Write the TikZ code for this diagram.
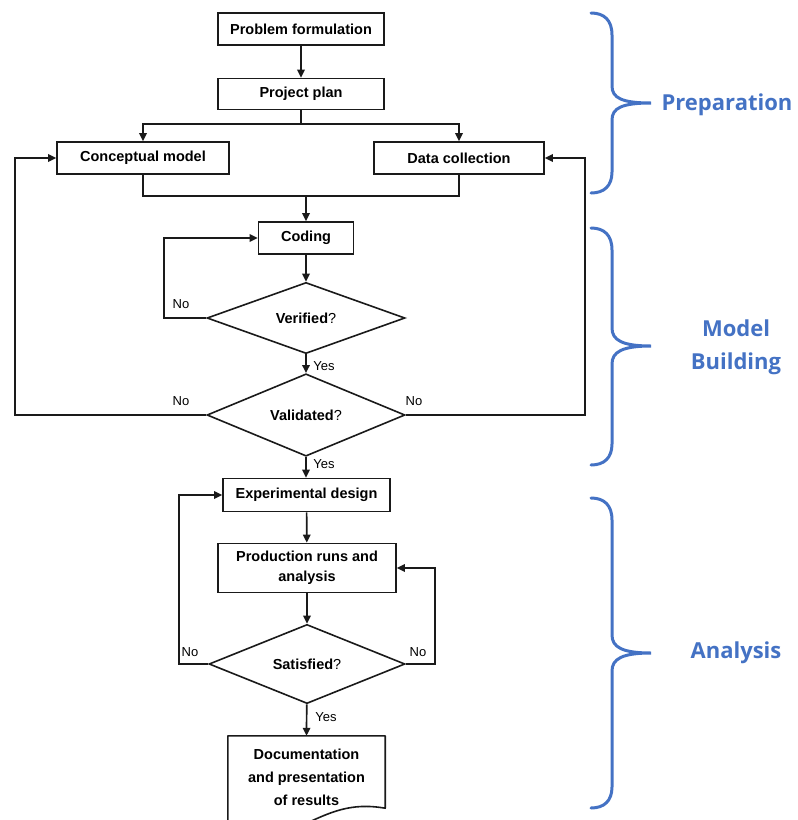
\documentclass[tikz,border=0pt]{standalone}
\usepackage{fontspec}
\setmainfont{Liberation Sans}
\newfontfamily\phasefont{Open Sans}
\usetikzlibrary{arrows.meta,shapes.geometric}
\definecolor{braceblue}{HTML}{4472C4}
\definecolor{edge}{HTML}{1A1A1A}

\begin{document}
\begin{tikzpicture}[x=1pt,y=-1pt,
  box/.style={draw=edge, line width=1.6pt, fill=white, inner sep=0pt, align=center,
    font=\fontsize{14.5}{20}\selectfont\bfseries},
  decision/.style={diamond, draw=edge, line width=1.6pt, fill=white, inner sep=0pt,
    font=\fontsize{14.5}{20}\selectfont},
  link/.style={draw=edge, line width=1.7pt},
  flow/.style={link, -{Triangle[length=8pt,width=7.5pt]}},
  answer/.style={font=\fontsize{13}{13}\selectfont, inner sep=0pt},
  brace/.style={draw=braceblue, line width=3pt, line cap=round},
  phase/.style={text=braceblue, align=center, inner sep=0pt,
    font=\phasefont\bfseries\fontsize{22}{33}\selectfont}
]
\useasboundingbox (0,0) rectangle (798,820);
\clip (0,0) rectangle (798,820);

% ---- preparation ----
\node[box, minimum width=166pt, minimum height=32pt] (pf) at (301,29) {Problem formulation};
\node[box, minimum width=166pt, minimum height=31pt] (pp) at (301,94) {Project plan};
\node[box, minimum width=172pt, minimum height=32pt] (cm) at (143,158) {Conceptual model};
\node[box, minimum width=170pt, minimum height=32pt] (dc) at (459,158) {Data collection};

% ---- model building ----
\node[box, minimum width=95pt, minimum height=32pt] (coding) at (306,238) {Coding};
\node[decision, minimum width=198pt, minimum height=63pt] (ver) at (306,318) {\textbf{Verified}?};
\node[decision, minimum width=198pt, minimum height=64pt] (val) at (306,415) {\textbf{Validated}?};

% ---- analysis ----
\node[box, minimum width=167pt, minimum height=33pt] (exp) at (306.5,495) {Experimental design};
\node[box, minimum width=178pt, minimum height=49pt] (prod) at (307,568) {Production runs and\\analysis};
\node[decision, minimum width=196pt, minimum height=70pt] (sat) at (307,664) {\textbf{Satisfied}?};
\node[align=center, inner sep=0pt, minimum width=157pt, minimum height=82pt,
  font=\fontsize{14.5}{23}\selectfont\bfseries] (doc) at (306.5,777)
  {Documentation\\and presentation\\of results};
% document outline with a wavy lower edge
\draw[draw=edge, line width=1.6pt, line join=round]
  ([shift={(0,14)}]doc.south west) -- (doc.north west) -- (doc.north east)
  -- ([shift={(0,-10)}]doc.south east)
  .. controls +(-35,-6) and +(30,-14) .. ([shift={(-85,8)}]doc.south east);

% ---- connectors ----
\coordinate (split) at (301,124);
\coordinate (merge) at (306,196);
\draw[flow] (pf) -- (pp);
\draw[link] (pp) -- (split);
\draw[flow] (split) -| (cm.north);
\draw[flow] (split) -| (dc.north);
\draw[link] (cm.south) |- (merge) -| (dc.south);
\draw[flow] (merge) -- (coding);
\draw[flow] (coding) -- (ver);
\draw[flow] (ver.west) -- ++(-42,0) |- (coding.west);
\draw[flow] (ver) -- (val);
\draw[flow] (val.west) -- ++(-191,0) |- (cm.west);
\draw[flow] (val.east) -- ++(179,0) |- (dc.east);
\draw[flow] (val.south) -- (exp.north -| val.south);
\draw[flow] (exp) -- (prod);
\draw[flow] (prod) -- (sat);
\draw[flow] (sat.west) -- ++(-29,0) |- (exp.west);
\draw[flow] (sat.east) -- ++(29,0) |- (prod.east);
\draw[flow] (sat) -- (doc.north);

% ---- branch labels ----
\node[answer] at (181,304) {No};
\node[answer] at (324,366) {Yes};
\node[answer] at (181,401) {No};
\node[answer] at (414,401) {No};
\node[answer] at (324,464) {Yes};
\node[answer] at (190,652) {No};
\node[answer] at (418,652) {No};
\node[answer] at (326,717) {Yes};

% ---- phase braces ----
\draw[brace] (591,13) .. controls (604,13) and (612,20) .. (612,35) -- (612,86)
  .. controls (612,98) and (622,103) .. (651,103)
  .. controls (622,103) and (612,108) .. (612,120) -- (612,172)
  .. controls (612,186) and (604,193) .. (591,193);
\draw[brace] (591,228) .. controls (604,228) and (612,235) .. (612,250) -- (612,328)
  .. controls (612,340) and (622,346) .. (651,346)
  .. controls (622,346) and (612,352) .. (612,364) -- (612,444)
  .. controls (612,458) and (604,465) .. (591,465);
\draw[brace] (591,498) .. controls (604,498) and (612,505) .. (612,520) -- (612,635)
  .. controls (612,647) and (622,653) .. (651,653)
  .. controls (622,653) and (612,659) .. (612,671) -- (612,787)
  .. controls (612,801) and (604,808) .. (591,808);

\node[phase] (prep) at (727,105) {Preparation};
\node[phase] (build) at (736,347) {Model\\Building};
\node[phase] (ana) at (736,653) {Analysis};
\end{tikzpicture}
\end{document}
